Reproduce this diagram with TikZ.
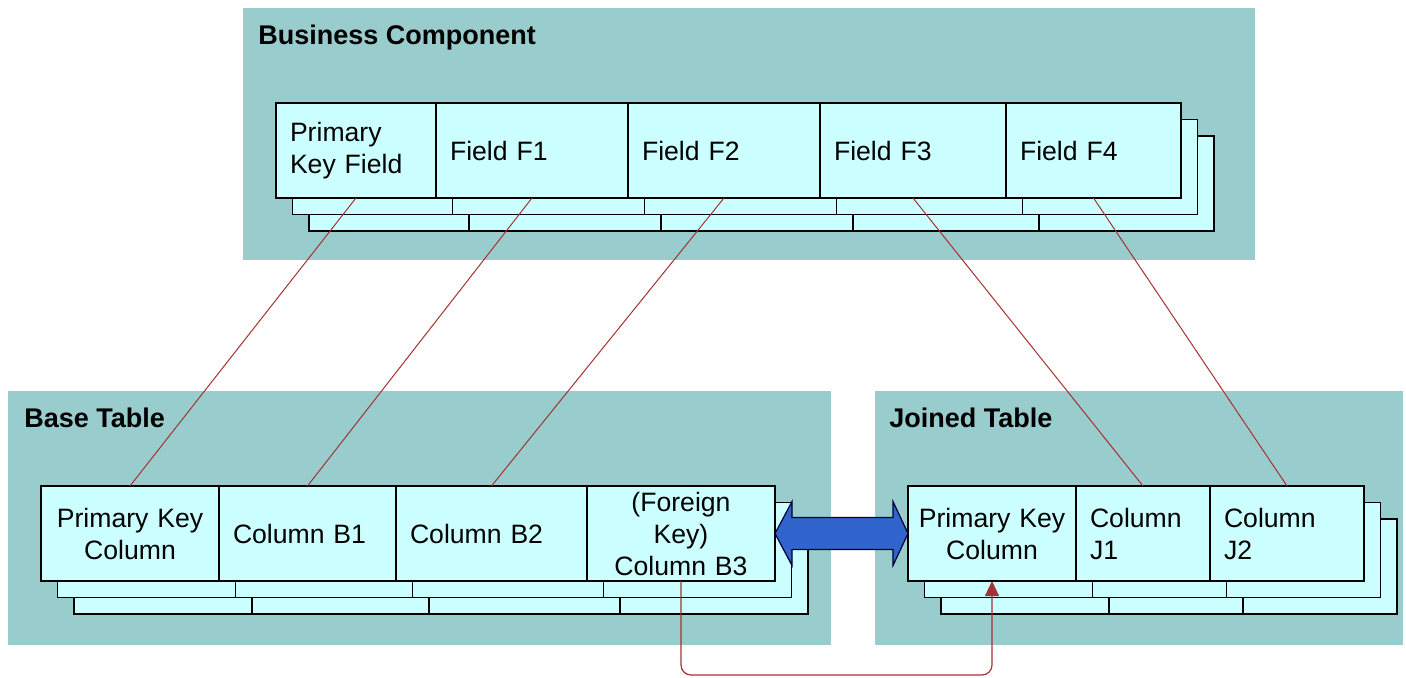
\documentclass[tikz,border=0pt]{standalone}
\usepackage{fontspec}
\setmainfont{Liberation Sans}
\usetikzlibrary{positioning,calc,arrows.meta}
\definecolor{panelfill}{RGB}{153,204,204}
\definecolor{cellfill}{RGB}{204,255,255}
\definecolor{linkred}{RGB}{165,50,50}
\definecolor{joinblue}{RGB}{50,100,205}
\pgfdeclarelayer{back}
\pgfsetlayers{back,main}
\tikzset{
  panel/.style={fill=panelfill, draw=none},
  paneltitle/.style={anchor=west, inner sep=0pt, font=\bfseries\fontsize{13.5}{16}\selectfont},
  cell/.style={draw=black, line width=0.8pt, fill=cellfill, outer sep=0pt,
    minimum height=47.5pt, inner ysep=0pt, inner xsep=7pt, align=left,
    font=\fontsize{13.3}{16}\selectfont},
  ccell/.style={cell, inner xsep=3pt, align=center},
  cellbox/.style={draw=black, line width=0.8pt, fill=cellfill},
  maplink/.style={draw=linkred, line width=0.5pt},
  fklink/.style={draw=linkred, line width=0.6pt, rounded corners=5pt,
    -{Triangle[width=7pt,length=7.5pt]}},
  joinarrow/.style={fill=joinblue, draw=black!80!blue, line width=0.6pt}
}
\begin{document}
\begin{tikzpicture}[x=0.5pt,y=-0.5pt]
\useasboundingbox (0,0) rectangle (1406,678);
% panels
\begin{pgfonlayer}{back}
\fill[panel] (243,8) rectangle (1255,260);
\fill[panel] (8,391) rectangle (831,645);
\fill[panel] (875,391) rectangle (1403,645);
\end{pgfonlayer}
\node[paneltitle] (bctitle) at (258,38) {Business Component};
\node[paneltitle] (bttitle) at (24,418) {Base Table};
\node[paneltitle] (jttitle) at (889,418) {Joined Table};
% business component fields
\node[cell, text width=66pt, anchor=north west] (pkf) at (276,103) {Primary\\Key Field};
\node[cell, text width=82pt, right=0pt of pkf] (f1) {Field F1};
\node[cell, text width=82pt, right=0pt of f1] (f2) {Field F2};
\node[cell, text width=79pt, right=0pt of f2] (f3) {Field F3};
\node[cell, text width=73.5pt, right=0pt of f3] (f4) {Field F4};
% base table columns
\node[ccell, text width=83pt, anchor=north west] (bpk) at (41,486) {Primary Key\\Column};
\node[cell, text width=74.5pt, right=0pt of bpk] (b1) {Column B1};
\node[cell, text width=81.5pt, right=0pt of b1] (b2) {Column B2};
\node[ccell, text width=88pt, right=0pt of b2] (b3) {(Foreign\\Key)\\Column B3};
% joined table columns
\node[ccell, text width=78pt, anchor=north west] (jpk) at (908,486) {Primary Key\\Column};
\node[cell, text width=53pt, right=0pt of jpk] (j1) {Column\\J1};
\node[cell, text width=63pt, right=0pt of j1] (j2) {Column\\J2};
% stacked records behind
\begin{pgfonlayer}{back}
\foreach \k in {2,1}
  \foreach \c in {pkf,f1,f2,f3,f4,bpk,b1,b2,b3,jpk,j1,j2}
    \draw[cellbox] ([shift={(\k*16.5,\k*16.5)}]\c.north west) rectangle ([shift={(\k*16.5,\k*16.5)}]\c.south east);
\end{pgfonlayer}
% field to column mapping
\draw[maplink] (pkf.south) -- (bpk.north);
\draw[maplink] (f1.south) -- (b1.north);
\draw[maplink] (f2.south) -- (b2.north);
\draw[maplink] (f3.south) -- (j1.north);
\draw[maplink] (f4.south) -- (j2.north);
% join
\draw[joinarrow] (b3.east) -- ++(17,-32) -- ++(0,16) -- ($(jpk.west)+(-15,-16)$) -- ++(0,-16)
  -- (jpk.west) -- ++(-15,32) -- ++(0,-16) -- ($(b3.east)+(17,16)$) -- ++(0,16) -- cycle;
\draw[fklink] (b3.south) -- ++(0,94) -| (jpk.south);
\end{tikzpicture}
\end{document}
